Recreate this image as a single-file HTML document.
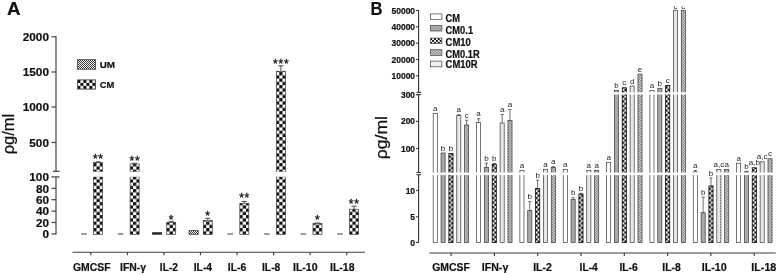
<!DOCTYPE html>
<html lang="en"><head><meta charset="utf-8"><title>Cytokine levels</title>
<style>
html,body{margin:0;padding:0;background:#fff;}
body{width:778px;height:275px;overflow:hidden;}
svg{display:block;font-family:'Liberation Sans', 'DejaVu Sans', sans-serif;}
</style></head>
<body>
<svg width="778" height="275" viewBox="0 0 778 275">
<rect width="778" height="275" fill="#fff"/>

<defs><clipPath id="clipB"><rect x="400" y="6.2" width="378" height="269"/></clipPath><pattern id="ckA0" width="6.5" height="6.5" patternUnits="userSpaceOnUse" x="93.23" y="234.60"><rect width="6.5" height="6.5" fill="#fff"/><rect width="3.25" height="3.25" fill="#111"/><rect x="3.25" y="3.25" width="3.25" height="3.25" fill="#111"/></pattern><pattern id="ckA1" width="6.5" height="6.5" patternUnits="userSpaceOnUse" x="133.04" y="234.60"><rect width="6.5" height="6.5" fill="#fff"/><rect width="3.25" height="3.25" fill="#111"/><rect x="3.25" y="3.25" width="3.25" height="3.25" fill="#111"/></pattern><pattern id="ckA2" width="6.5" height="6.5" patternUnits="userSpaceOnUse" x="166.36" y="234.60"><rect width="6.5" height="6.5" fill="#fff"/><rect width="3.25" height="3.25" fill="#111"/><rect x="3.25" y="3.25" width="3.25" height="3.25" fill="#111"/></pattern><pattern id="ckA3" width="6.5" height="6.5" patternUnits="userSpaceOnUse" x="206.17" y="234.60"><rect width="6.5" height="6.5" fill="#fff"/><rect width="3.25" height="3.25" fill="#111"/><rect x="3.25" y="3.25" width="3.25" height="3.25" fill="#111"/></pattern><pattern id="ckA4" width="6.5" height="6.5" patternUnits="userSpaceOnUse" x="239.48" y="234.60"><rect width="6.5" height="6.5" fill="#fff"/><rect width="3.25" height="3.25" fill="#111"/><rect x="3.25" y="3.25" width="3.25" height="3.25" fill="#111"/></pattern><pattern id="ckA5" width="6.5" height="6.5" patternUnits="userSpaceOnUse" x="279.29" y="234.60"><rect width="6.5" height="6.5" fill="#fff"/><rect width="3.25" height="3.25" fill="#111"/><rect x="3.25" y="3.25" width="3.25" height="3.25" fill="#111"/></pattern><pattern id="ckA6" width="6.5" height="6.5" patternUnits="userSpaceOnUse" x="312.61" y="234.60"><rect width="6.5" height="6.5" fill="#fff"/><rect width="3.25" height="3.25" fill="#111"/><rect x="3.25" y="3.25" width="3.25" height="3.25" fill="#111"/></pattern><pattern id="ckA7" width="6.5" height="6.5" patternUnits="userSpaceOnUse" x="352.42" y="234.60"><rect width="6.5" height="6.5" fill="#fff"/><rect width="3.25" height="3.25" fill="#111"/><rect x="3.25" y="3.25" width="3.25" height="3.25" fill="#111"/></pattern><pattern id="ckB0" width="4.6" height="4.6" patternUnits="userSpaceOnUse" x="448.65" y="242.80"><rect width="4.6" height="4.6" fill="#fff"/><rect width="2.3" height="2.3" fill="#111"/><rect x="2.3" y="2.3" width="2.3" height="2.3" fill="#111"/></pattern><pattern id="ckB1" width="4.6" height="4.6" patternUnits="userSpaceOnUse" x="491.99" y="242.80"><rect width="4.6" height="4.6" fill="#fff"/><rect width="2.3" height="2.3" fill="#111"/><rect x="2.3" y="2.3" width="2.3" height="2.3" fill="#111"/></pattern><pattern id="ckB2" width="4.6" height="4.6" patternUnits="userSpaceOnUse" x="535.33" y="242.80"><rect width="4.6" height="4.6" fill="#fff"/><rect width="2.3" height="2.3" fill="#111"/><rect x="2.3" y="2.3" width="2.3" height="2.3" fill="#111"/></pattern><pattern id="ckB3" width="4.6" height="4.6" patternUnits="userSpaceOnUse" x="578.67" y="242.80"><rect width="4.6" height="4.6" fill="#fff"/><rect width="2.3" height="2.3" fill="#111"/><rect x="2.3" y="2.3" width="2.3" height="2.3" fill="#111"/></pattern><pattern id="ckB4" width="4.6" height="4.6" patternUnits="userSpaceOnUse" x="622.01" y="242.80"><rect width="4.6" height="4.6" fill="#fff"/><rect width="2.3" height="2.3" fill="#111"/><rect x="2.3" y="2.3" width="2.3" height="2.3" fill="#111"/></pattern><pattern id="ckB5" width="4.6" height="4.6" patternUnits="userSpaceOnUse" x="665.35" y="242.80"><rect width="4.6" height="4.6" fill="#fff"/><rect width="2.3" height="2.3" fill="#111"/><rect x="2.3" y="2.3" width="2.3" height="2.3" fill="#111"/></pattern><pattern id="ckB6" width="4.6" height="4.6" patternUnits="userSpaceOnUse" x="708.69" y="242.80"><rect width="4.6" height="4.6" fill="#fff"/><rect width="2.3" height="2.3" fill="#111"/><rect x="2.3" y="2.3" width="2.3" height="2.3" fill="#111"/></pattern><pattern id="ckB7" width="4.6" height="4.6" patternUnits="userSpaceOnUse" x="752.03" y="242.80"><rect width="4.6" height="4.6" fill="#fff"/><rect width="2.3" height="2.3" fill="#111"/><rect x="2.3" y="2.3" width="2.3" height="2.3" fill="#111"/></pattern>
<pattern id="ckA" width="6" height="6" patternUnits="userSpaceOnUse" x="0.5" y="0.3">
<rect width="6" height="6" fill="#fff"/><rect width="3" height="3" fill="#111"/><rect x="3" y="3" width="3" height="3" fill="#111"/>
</pattern>
<pattern id="ckL" width="6" height="6" patternUnits="userSpaceOnUse" x="77.4" y="79.9">
<rect width="6" height="6" fill="#fff"/><rect width="3" height="3" fill="#111"/><rect x="3" y="3" width="3" height="3" fill="#111"/>
</pattern>
<pattern id="um" width="2" height="2" patternUnits="userSpaceOnUse">
<rect width="2" height="2" fill="#fff"/><rect width="1" height="1" fill="#333"/><rect x="1" y="1" width="1" height="1" fill="#333"/>
</pattern>
<pattern id="ckB" width="3.4" height="3.4" patternUnits="userSpaceOnUse" x="0.5" y="0.5">
<rect width="3.4" height="3.4" fill="#fff"/><rect width="1.7" height="1.7" fill="#111"/><rect x="1.7" y="1.7" width="1.7" height="1.7" fill="#111"/>
</pattern>
<pattern id="ckBL" width="3.8" height="3.8" patternUnits="userSpaceOnUse" x="430.2" y="38.1">
<rect width="3.8" height="3.8" fill="#fff"/><rect width="1.9" height="1.9" fill="#111"/><rect x="1.9" y="1.9" width="1.9" height="1.9" fill="#111"/>
</pattern>
<pattern id="dotB" width="2" height="2" patternUnits="userSpaceOnUse">
<rect width="2" height="2" fill="#fff"/><rect x="0.3" y="0.5" width="1.4" height="0.9" fill="#b4b4b4"/>
</pattern>
<pattern id="dotBL" width="2" height="2" patternUnits="userSpaceOnUse">
<rect width="2" height="2" fill="#fff"/><rect x="0.5" y="0.5" width="0.9" height="0.9" fill="#bbb"/>
</pattern>
<pattern id="hatB" width="1.6" height="1.6" patternUnits="userSpaceOnUse">
<rect width="1.6" height="1.6" fill="#f0f0f0"/><rect width="0.8" height="0.8" fill="#666"/><rect x="0.8" y="0.8" width="0.8" height="0.8" fill="#666"/>
</pattern>
<pattern id="hatBL" width="2" height="2" patternUnits="userSpaceOnUse">
<rect width="2" height="2" fill="#e8e8e8"/><rect width="1" height="1" fill="#444"/><rect x="1" y="1" width="1" height="1" fill="#444"/>
</pattern>
</defs>

<text x="7.00" y="14.70" font-size="19" font-weight="bold" stroke="#111" stroke-width="0.2" textLength="13.6" lengthAdjust="spacingAndGlyphs" fill="#111">A</text>
<line x1="56.00" y1="36.20" x2="56.00" y2="171.30" stroke="#3c3c3c" stroke-width="1.15"/>
<line x1="51.40" y1="36.80" x2="56.00" y2="36.80" stroke="#3c3c3c" stroke-width="1.15"/>
<text x="49.00" y="41.00" font-size="11.8" font-weight="bold" stroke="#111" stroke-width="0.2" text-anchor="end" fill="#111">2000</text>
<line x1="51.40" y1="72.00" x2="56.00" y2="72.00" stroke="#3c3c3c" stroke-width="1.15"/>
<text x="49.00" y="76.20" font-size="11.8" font-weight="bold" stroke="#111" stroke-width="0.2" text-anchor="end" fill="#111">1500</text>
<line x1="51.40" y1="107.00" x2="56.00" y2="107.00" stroke="#3c3c3c" stroke-width="1.15"/>
<text x="49.00" y="111.20" font-size="11.8" font-weight="bold" stroke="#111" stroke-width="0.2" text-anchor="end" fill="#111">1000</text>
<line x1="51.40" y1="142.50" x2="56.00" y2="142.50" stroke="#3c3c3c" stroke-width="1.15"/>
<text x="49.00" y="146.70" font-size="11.8" font-weight="bold" stroke="#111" stroke-width="0.2" text-anchor="end" fill="#111">500</text>
<line x1="53.00" y1="171.30" x2="59.60" y2="171.30" stroke="#3c3c3c" stroke-width="1.15"/>
<line x1="56.00" y1="176.90" x2="56.00" y2="234.50" stroke="#3c3c3c" stroke-width="1.15"/>
<line x1="51.40" y1="176.90" x2="59.60" y2="176.90" stroke="#3c3c3c" stroke-width="1.15"/>
<text x="49.00" y="181.10" font-size="11.8" font-weight="bold" stroke="#111" stroke-width="0.2" text-anchor="end" fill="#111">100</text>
<line x1="51.40" y1="188.30" x2="56.00" y2="188.30" stroke="#3c3c3c" stroke-width="1.15"/>
<text x="49.00" y="192.50" font-size="11.8" font-weight="bold" stroke="#111" stroke-width="0.2" text-anchor="end" fill="#111">80</text>
<line x1="51.40" y1="199.70" x2="56.00" y2="199.70" stroke="#3c3c3c" stroke-width="1.15"/>
<text x="49.00" y="203.90" font-size="11.8" font-weight="bold" stroke="#111" stroke-width="0.2" text-anchor="end" fill="#111">60</text>
<line x1="51.40" y1="211.10" x2="56.00" y2="211.10" stroke="#3c3c3c" stroke-width="1.15"/>
<text x="49.00" y="215.30" font-size="11.8" font-weight="bold" stroke="#111" stroke-width="0.2" text-anchor="end" fill="#111">40</text>
<line x1="51.40" y1="222.50" x2="56.00" y2="222.50" stroke="#3c3c3c" stroke-width="1.15"/>
<text x="49.00" y="226.70" font-size="11.8" font-weight="bold" stroke="#111" stroke-width="0.2" text-anchor="end" fill="#111">20</text>
<line x1="51.40" y1="233.90" x2="56.00" y2="233.90" stroke="#3c3c3c" stroke-width="1.15"/>
<text x="49.00" y="238.10" font-size="11.8" font-weight="bold" stroke="#111" stroke-width="0.2" text-anchor="end" fill="#111">0</text>
<text transform="translate(14.3,154.3) rotate(-90)" font-size="16" textLength="40.5" stroke="#111" stroke-width="0.25" lengthAdjust="spacingAndGlyphs" fill="#111">ρg/ml</text>
<rect x="77.60" y="59.70" width="18.00" height="9.50" fill="url(#um)" stroke="#3c3c3c" stroke-width="0.8"/>
<rect x="77.60" y="79.90" width="18.00" height="9.20" fill="url(#ckL)" stroke="#3c3c3c" stroke-width="0.8"/>
<text x="99.70" y="67.60" font-size="9" font-weight="bold" stroke="#111" stroke-width="0.2" textLength="15.3" lengthAdjust="spacingAndGlyphs" fill="#111">UM</text>
<text x="99.70" y="88.00" font-size="9" font-weight="bold" stroke="#111" stroke-width="0.2" textLength="14.6" lengthAdjust="spacingAndGlyphs" fill="#111">CM</text>
<line x1="72.50" y1="252.20" x2="365.00" y2="252.20" stroke="#3c3c3c" stroke-width="1.15"/>
<line x1="90.78" y1="252.20" x2="90.78" y2="255.30" stroke="#3c3c3c" stroke-width="1.15"/>
<line x1="127.34" y1="252.20" x2="127.34" y2="255.30" stroke="#3c3c3c" stroke-width="1.15"/>
<line x1="163.91" y1="252.20" x2="163.91" y2="255.30" stroke="#3c3c3c" stroke-width="1.15"/>
<line x1="200.47" y1="252.20" x2="200.47" y2="255.30" stroke="#3c3c3c" stroke-width="1.15"/>
<line x1="237.03" y1="252.20" x2="237.03" y2="255.30" stroke="#3c3c3c" stroke-width="1.15"/>
<line x1="273.59" y1="252.20" x2="273.59" y2="255.30" stroke="#3c3c3c" stroke-width="1.15"/>
<line x1="310.16" y1="252.20" x2="310.16" y2="255.30" stroke="#3c3c3c" stroke-width="1.15"/>
<line x1="346.72" y1="252.20" x2="346.72" y2="255.30" stroke="#3c3c3c" stroke-width="1.15"/>
<text x="73.00" y="270.80" font-size="10.8" font-weight="bold" stroke="#111" stroke-width="0.2" textLength="37.6" lengthAdjust="spacingAndGlyphs" fill="#111">GMCSF</text>
<text x="120.00" y="270.80" font-size="10.8" font-weight="bold" stroke="#111" stroke-width="0.2" textLength="26" lengthAdjust="spacingAndGlyphs" fill="#111">IFN-γ</text>
<text x="159.80" y="270.80" font-size="10.8" font-weight="bold" stroke="#111" stroke-width="0.2" textLength="18.2" lengthAdjust="spacingAndGlyphs" fill="#111">IL-2</text>
<text x="193.70" y="270.80" font-size="10.8" font-weight="bold" stroke="#111" stroke-width="0.2" textLength="18.4" lengthAdjust="spacingAndGlyphs" fill="#111">IL-4</text>
<text x="227.80" y="270.80" font-size="10.8" font-weight="bold" stroke="#111" stroke-width="0.2" textLength="18.4" lengthAdjust="spacingAndGlyphs" fill="#111">IL-6</text>
<text x="262.00" y="270.80" font-size="10.8" font-weight="bold" stroke="#111" stroke-width="0.2" textLength="18.3" lengthAdjust="spacingAndGlyphs" fill="#111">IL-8</text>
<text x="293.00" y="270.80" font-size="10.8" font-weight="bold" stroke="#111" stroke-width="0.2" textLength="24.5" lengthAdjust="spacingAndGlyphs" fill="#111">IL-10</text>
<text x="330.00" y="270.80" font-size="10.8" font-weight="bold" stroke="#111" stroke-width="0.2" textLength="24.5" lengthAdjust="spacingAndGlyphs" fill="#111">IL-18</text>
<line x1="81.18" y1="234.00" x2="86.78" y2="234.00" stroke="#3c3c3c" stroke-width="1"/>
<line x1="98.08" y1="161.80" x2="98.08" y2="163.60" stroke="#3c3c3c" stroke-width="0.9"/>
<line x1="95.48" y1="161.80" x2="100.68" y2="161.80" stroke="#3c3c3c" stroke-width="0.9"/>
<rect x="93.58" y="162.60" width="9.00" height="9.30" fill="url(#ckA0)" stroke="#3c3c3c" stroke-width="0.7"/>
<rect x="93.58" y="176.80" width="9.00" height="57.50" fill="url(#ckA0)" stroke="#3c3c3c" stroke-width="0.7"/>
<rect x="92.58" y="171.7" width="11.00" height="5.0" fill="#fff"/>
<text x="98.38" y="163.10" font-size="12" text-anchor="middle" fill="#111" letter-spacing="0.8" stroke="#111" stroke-width="0.3">**</text>
<line x1="117.74" y1="234.00" x2="123.34" y2="234.00" stroke="#3c3c3c" stroke-width="1"/>
<line x1="134.64" y1="163.20" x2="134.64" y2="165.00" stroke="#3c3c3c" stroke-width="0.9"/>
<line x1="132.04" y1="163.20" x2="137.24" y2="163.20" stroke="#3c3c3c" stroke-width="0.9"/>
<rect x="130.14" y="164.00" width="9.00" height="7.90" fill="url(#ckA1)" stroke="#3c3c3c" stroke-width="0.7"/>
<rect x="130.14" y="176.80" width="9.00" height="57.50" fill="url(#ckA1)" stroke="#3c3c3c" stroke-width="0.7"/>
<rect x="129.14" y="171.7" width="11.00" height="5.0" fill="#fff"/>
<text x="134.94" y="165.30" font-size="12" text-anchor="middle" fill="#111" letter-spacing="0.8" stroke="#111" stroke-width="0.3">**</text>
<rect x="152.51" y="232.60" width="9.20" height="1.70" fill="#222" stroke="#3c3c3c" stroke-width="0.8"/>
<line x1="171.21" y1="221.40" x2="171.21" y2="223.60" stroke="#3c3c3c" stroke-width="0.9"/>
<line x1="168.61" y1="221.40" x2="173.81" y2="221.40" stroke="#3c3c3c" stroke-width="0.9"/>
<rect x="166.71" y="222.60" width="9.00" height="11.70" fill="url(#ckA2)" stroke="#3c3c3c" stroke-width="0.7"/>
<text x="171.51" y="223.50" font-size="12" text-anchor="middle" fill="#111" letter-spacing="0.8" stroke="#111" stroke-width="0.3">*</text>
<rect x="189.07" y="230.60" width="9.20" height="3.70" fill="url(#um)" stroke="#3c3c3c" stroke-width="0.8"/>
<line x1="207.77" y1="218.30" x2="207.77" y2="221.60" stroke="#3c3c3c" stroke-width="0.9"/>
<line x1="205.17" y1="218.30" x2="210.37" y2="218.30" stroke="#3c3c3c" stroke-width="0.9"/>
<rect x="203.27" y="220.60" width="9.00" height="13.70" fill="url(#ckA3)" stroke="#3c3c3c" stroke-width="0.7"/>
<text x="208.07" y="220.30" font-size="12" text-anchor="middle" fill="#111" letter-spacing="0.8" stroke="#111" stroke-width="0.3">*</text>
<line x1="227.43" y1="234.00" x2="233.03" y2="234.00" stroke="#3c3c3c" stroke-width="1"/>
<line x1="244.33" y1="201.40" x2="244.33" y2="204.30" stroke="#3c3c3c" stroke-width="0.9"/>
<line x1="241.73" y1="201.40" x2="246.93" y2="201.40" stroke="#3c3c3c" stroke-width="0.9"/>
<rect x="239.83" y="203.30" width="9.00" height="31.00" fill="url(#ckA4)" stroke="#3c3c3c" stroke-width="0.7"/>
<text x="244.63" y="202.30" font-size="12" text-anchor="middle" fill="#111" letter-spacing="0.8" stroke="#111" stroke-width="0.3">**</text>
<line x1="263.99" y1="234.00" x2="269.59" y2="234.00" stroke="#3c3c3c" stroke-width="1"/>
<line x1="280.89" y1="65.80" x2="280.89" y2="72.30" stroke="#3c3c3c" stroke-width="0.9"/>
<line x1="278.29" y1="65.80" x2="283.49" y2="65.80" stroke="#3c3c3c" stroke-width="0.9"/>
<rect x="276.39" y="71.30" width="9.00" height="100.60" fill="url(#ckA5)" stroke="#3c3c3c" stroke-width="0.7"/>
<rect x="276.39" y="176.80" width="9.00" height="57.50" fill="url(#ckA5)" stroke="#3c3c3c" stroke-width="0.7"/>
<rect x="275.39" y="171.7" width="11.00" height="5.0" fill="#fff"/>
<text x="281.19" y="67.60" font-size="12" text-anchor="middle" fill="#111" letter-spacing="0.8" stroke="#111" stroke-width="0.3">***</text>
<line x1="300.56" y1="234.00" x2="306.16" y2="234.00" stroke="#3c3c3c" stroke-width="1"/>
<line x1="317.46" y1="223.00" x2="317.46" y2="224.60" stroke="#3c3c3c" stroke-width="0.9"/>
<line x1="314.86" y1="223.00" x2="320.06" y2="223.00" stroke="#3c3c3c" stroke-width="0.9"/>
<rect x="312.96" y="223.60" width="9.00" height="10.70" fill="url(#ckA6)" stroke="#3c3c3c" stroke-width="0.7"/>
<text x="317.76" y="223.70" font-size="12" text-anchor="middle" fill="#111" letter-spacing="0.8" stroke="#111" stroke-width="0.3">*</text>
<line x1="337.12" y1="234.00" x2="342.72" y2="234.00" stroke="#3c3c3c" stroke-width="1"/>
<line x1="354.02" y1="206.20" x2="354.02" y2="210.20" stroke="#3c3c3c" stroke-width="0.9"/>
<line x1="351.42" y1="206.20" x2="356.62" y2="206.20" stroke="#3c3c3c" stroke-width="0.9"/>
<rect x="349.52" y="209.20" width="9.00" height="25.10" fill="url(#ckA7)" stroke="#3c3c3c" stroke-width="0.7"/>
<text x="354.32" y="207.90" font-size="12" text-anchor="middle" fill="#111" letter-spacing="0.8" stroke="#111" stroke-width="0.3">**</text>
<text x="370.40" y="14.70" font-size="19" font-weight="bold" stroke="#111" stroke-width="0.2" textLength="12" lengthAdjust="spacingAndGlyphs" fill="#111">B</text>
<line x1="418.60" y1="10.00" x2="418.60" y2="92.40" stroke="#3c3c3c" stroke-width="1.15"/>
<line x1="416.00" y1="10.50" x2="418.60" y2="10.50" stroke="#3c3c3c" stroke-width="1.15"/>
<text x="415.10" y="13.60" font-size="8.5" font-weight="bold" stroke="#111" stroke-width="0.2" text-anchor="end" fill="#111">50000</text>
<line x1="416.00" y1="26.83" x2="418.60" y2="26.83" stroke="#3c3c3c" stroke-width="1.15"/>
<text x="415.10" y="29.93" font-size="8.5" font-weight="bold" stroke="#111" stroke-width="0.2" text-anchor="end" fill="#111">40000</text>
<line x1="416.00" y1="43.16" x2="418.60" y2="43.16" stroke="#3c3c3c" stroke-width="1.15"/>
<text x="415.10" y="46.26" font-size="8.5" font-weight="bold" stroke="#111" stroke-width="0.2" text-anchor="end" fill="#111">30000</text>
<line x1="416.00" y1="59.49" x2="418.60" y2="59.49" stroke="#3c3c3c" stroke-width="1.15"/>
<text x="415.10" y="62.59" font-size="8.5" font-weight="bold" stroke="#111" stroke-width="0.2" text-anchor="end" fill="#111">20000</text>
<line x1="416.00" y1="75.82" x2="418.60" y2="75.82" stroke="#3c3c3c" stroke-width="1.15"/>
<text x="415.10" y="78.92" font-size="8.5" font-weight="bold" stroke="#111" stroke-width="0.2" text-anchor="end" fill="#111">10000</text>
<line x1="416.40" y1="92.40" x2="421.00" y2="92.40" stroke="#3c3c3c" stroke-width="1.15"/>
<line x1="416.40" y1="94.60" x2="421.00" y2="94.60" stroke="#3c3c3c" stroke-width="1.15"/>
<line x1="418.60" y1="94.60" x2="418.60" y2="172.50" stroke="#3c3c3c" stroke-width="1.15"/>
<line x1="416.00" y1="94.60" x2="418.60" y2="94.60" stroke="#3c3c3c" stroke-width="1.15"/>
<text x="415.10" y="97.70" font-size="8.5" font-weight="bold" stroke="#111" stroke-width="0.2" text-anchor="end" fill="#111">300</text>
<line x1="416.00" y1="121.30" x2="418.60" y2="121.30" stroke="#3c3c3c" stroke-width="1.15"/>
<text x="415.10" y="124.40" font-size="8.5" font-weight="bold" stroke="#111" stroke-width="0.2" text-anchor="end" fill="#111">200</text>
<line x1="416.00" y1="148.50" x2="418.60" y2="148.50" stroke="#3c3c3c" stroke-width="1.15"/>
<text x="415.10" y="151.60" font-size="8.5" font-weight="bold" stroke="#111" stroke-width="0.2" text-anchor="end" fill="#111">100</text>
<line x1="416.40" y1="172.50" x2="421.00" y2="172.50" stroke="#3c3c3c" stroke-width="1.15"/>
<line x1="416.40" y1="174.70" x2="421.00" y2="174.70" stroke="#3c3c3c" stroke-width="1.15"/>
<line x1="418.60" y1="174.70" x2="418.60" y2="243.00" stroke="#3c3c3c" stroke-width="1.15"/>
<line x1="416.00" y1="190.50" x2="418.60" y2="190.50" stroke="#3c3c3c" stroke-width="1.15"/>
<text x="415.10" y="193.60" font-size="8.5" font-weight="bold" stroke="#111" stroke-width="0.2" text-anchor="end" fill="#111">10</text>
<line x1="416.00" y1="216.80" x2="418.60" y2="216.80" stroke="#3c3c3c" stroke-width="1.15"/>
<text x="415.10" y="219.90" font-size="8.5" font-weight="bold" stroke="#111" stroke-width="0.2" text-anchor="end" fill="#111">5</text>
<line x1="416.00" y1="242.50" x2="418.60" y2="242.50" stroke="#3c3c3c" stroke-width="1.15"/>
<text x="415.10" y="245.60" font-size="8.5" font-weight="bold" stroke="#111" stroke-width="0.2" text-anchor="end" fill="#111">0</text>
<text transform="translate(386.8,159.3) rotate(-90)" font-size="16" textLength="43.3" stroke="#111" stroke-width="0.25" lengthAdjust="spacingAndGlyphs" fill="#111">ρg/ml</text>
<rect x="430.50" y="13.90" width="11.40" height="5.70" fill="#fff" stroke="#444" stroke-width="0.7"/>
<text x="445.60" y="22.20" font-size="10" font-weight="bold" stroke="#111" stroke-width="0.2" textLength="14.5" lengthAdjust="spacingAndGlyphs" fill="#111">CM</text>
<rect x="430.50" y="25.30" width="11.40" height="5.70" fill="#a8a8a8" stroke="#444" stroke-width="0.7"/>
<text x="445.60" y="34.00" font-size="10" font-weight="bold" stroke="#111" stroke-width="0.2" textLength="27.5" lengthAdjust="spacingAndGlyphs" fill="#111">CM0.1</text>
<rect x="430.50" y="38.10" width="11.40" height="5.40" fill="url(#ckBL)" stroke="#444" stroke-width="0.7"/>
<text x="445.60" y="46.20" font-size="10" font-weight="bold" stroke="#111" stroke-width="0.2" textLength="25.3" lengthAdjust="spacingAndGlyphs" fill="#111">CM10</text>
<rect x="430.50" y="49.70" width="11.40" height="5.70" fill="url(#hatB)" stroke="#444" stroke-width="0.7"/>
<text x="445.60" y="57.70" font-size="10" font-weight="bold" stroke="#111" stroke-width="0.2" textLength="34" lengthAdjust="spacingAndGlyphs" fill="#111">CM0.1R</text>
<rect x="430.50" y="61.10" width="11.40" height="5.70" fill="url(#dotBL)" stroke="#444" stroke-width="0.7"/>
<text x="445.60" y="68.20" font-size="10" font-weight="bold" stroke="#111" stroke-width="0.2" textLength="32" lengthAdjust="spacingAndGlyphs" fill="#111">CM10R</text>
<line x1="429.30" y1="253.00" x2="775.70" y2="253.00" stroke="#3c3c3c" stroke-width="1.15"/>
<line x1="451.10" y1="253.00" x2="451.10" y2="256.00" stroke="#3c3c3c" stroke-width="1.15"/>
<line x1="494.40" y1="253.00" x2="494.40" y2="256.00" stroke="#3c3c3c" stroke-width="1.15"/>
<line x1="537.70" y1="253.00" x2="537.70" y2="256.00" stroke="#3c3c3c" stroke-width="1.15"/>
<line x1="581.00" y1="253.00" x2="581.00" y2="256.00" stroke="#3c3c3c" stroke-width="1.15"/>
<line x1="624.30" y1="253.00" x2="624.30" y2="256.00" stroke="#3c3c3c" stroke-width="1.15"/>
<line x1="667.60" y1="253.00" x2="667.60" y2="256.00" stroke="#3c3c3c" stroke-width="1.15"/>
<line x1="710.90" y1="253.00" x2="710.90" y2="256.00" stroke="#3c3c3c" stroke-width="1.15"/>
<line x1="754.20" y1="253.00" x2="754.20" y2="256.00" stroke="#3c3c3c" stroke-width="1.15"/>
<text x="432.20" y="271.20" font-size="10.8" font-weight="bold" stroke="#111" stroke-width="0.2" textLength="37.8" lengthAdjust="spacingAndGlyphs" fill="#111">GMCSF</text>
<text x="481.80" y="271.20" font-size="10.8" font-weight="bold" stroke="#111" stroke-width="0.2" textLength="26.5" lengthAdjust="spacingAndGlyphs" fill="#111">IFN-γ</text>
<text x="533.20" y="271.20" font-size="10.8" font-weight="bold" stroke="#111" stroke-width="0.2" textLength="18.6" lengthAdjust="spacingAndGlyphs" fill="#111">IL-2</text>
<text x="579.60" y="271.20" font-size="10.8" font-weight="bold" stroke="#111" stroke-width="0.2" textLength="18.2" lengthAdjust="spacingAndGlyphs" fill="#111">IL-4</text>
<text x="619.40" y="271.20" font-size="10.8" font-weight="bold" stroke="#111" stroke-width="0.2" textLength="18.4" lengthAdjust="spacingAndGlyphs" fill="#111">IL-6</text>
<text x="662.30" y="271.20" font-size="10.8" font-weight="bold" stroke="#111" stroke-width="0.2" textLength="18.4" lengthAdjust="spacingAndGlyphs" fill="#111">IL-8</text>
<text x="701.70" y="271.20" font-size="10.8" font-weight="bold" stroke="#111" stroke-width="0.2" textLength="25" lengthAdjust="spacingAndGlyphs" fill="#111">IL-10</text>
<text x="751.30" y="271.20" font-size="10.8" font-weight="bold" stroke="#111" stroke-width="0.2" textLength="25" lengthAdjust="spacingAndGlyphs" fill="#111">IL-18</text>
<rect x="433.20" y="113.50" width="4.10" height="129.10" fill="#fff" stroke="#3a3a3a" stroke-width="0.7"/>
<rect x="432.20" y="172.5" width="6.10" height="2.60" fill="#fff"/>
<text x="435.25" y="111.10" font-size="8" text-anchor="middle" fill="#222">a</text>
<rect x="441.05" y="153.00" width="4.10" height="89.60" fill="#a8a8a8" stroke="#3a3a3a" stroke-width="0.7"/>
<rect x="440.05" y="172.5" width="6.10" height="2.60" fill="#fff"/>
<text x="443.10" y="150.60" font-size="8" text-anchor="middle" fill="#222">b</text>
<rect x="448.90" y="153.50" width="4.10" height="89.10" fill="url(#ckB0)" stroke="#1a1a1a" stroke-width="0.9"/>
<rect x="447.90" y="172.5" width="6.10" height="2.60" fill="#fff"/>
<text x="450.95" y="151.10" font-size="8" text-anchor="middle" fill="#222">b</text>
<line x1="458.80" y1="114.70" x2="458.80" y2="116.00" stroke="#333" stroke-width="0.7"/>
<line x1="457.20" y1="114.70" x2="460.40" y2="114.70" stroke="#333" stroke-width="0.7"/>
<rect x="456.75" y="115.50" width="4.10" height="127.10" fill="url(#dotB)" stroke="#3a3a3a" stroke-width="0.7"/>
<rect x="455.75" y="172.5" width="6.10" height="2.60" fill="#fff"/>
<text x="458.80" y="112.30" font-size="8" text-anchor="middle" fill="#222">a</text>
<line x1="466.65" y1="120.20" x2="466.65" y2="125.50" stroke="#333" stroke-width="0.7"/>
<line x1="465.05" y1="120.20" x2="468.25" y2="120.20" stroke="#333" stroke-width="0.7"/>
<rect x="464.60" y="125.00" width="4.10" height="117.60" fill="url(#hatB)" stroke="#3a3a3a" stroke-width="0.7"/>
<rect x="463.60" y="172.5" width="6.10" height="2.60" fill="#fff"/>
<text x="466.65" y="117.80" font-size="8" text-anchor="middle" fill="#222">c</text>
<line x1="478.59" y1="118.70" x2="478.59" y2="123.00" stroke="#333" stroke-width="0.7"/>
<line x1="476.99" y1="118.70" x2="480.19" y2="118.70" stroke="#333" stroke-width="0.7"/>
<rect x="476.54" y="122.50" width="4.10" height="120.10" fill="#fff" stroke="#3a3a3a" stroke-width="0.7"/>
<rect x="475.54" y="172.5" width="6.10" height="2.60" fill="#fff"/>
<text x="478.59" y="116.30" font-size="8" text-anchor="middle" fill="#222">a</text>
<line x1="486.44" y1="163.20" x2="486.44" y2="168.00" stroke="#333" stroke-width="0.7"/>
<line x1="484.84" y1="163.20" x2="488.04" y2="163.20" stroke="#333" stroke-width="0.7"/>
<rect x="484.39" y="167.50" width="4.10" height="75.10" fill="#a8a8a8" stroke="#3a3a3a" stroke-width="0.7"/>
<rect x="483.39" y="172.5" width="6.10" height="2.60" fill="#fff"/>
<text x="486.44" y="160.80" font-size="8" text-anchor="middle" fill="#222">b</text>
<line x1="494.29" y1="163.50" x2="494.29" y2="164.80" stroke="#333" stroke-width="0.7"/>
<line x1="492.69" y1="163.50" x2="495.89" y2="163.50" stroke="#333" stroke-width="0.7"/>
<rect x="492.24" y="164.30" width="4.10" height="78.30" fill="url(#ckB1)" stroke="#1a1a1a" stroke-width="0.9"/>
<rect x="491.24" y="172.5" width="6.10" height="2.60" fill="#fff"/>
<text x="494.29" y="161.10" font-size="8" text-anchor="middle" fill="#222">b</text>
<line x1="502.14" y1="114.50" x2="502.14" y2="123.50" stroke="#333" stroke-width="0.7"/>
<line x1="500.54" y1="114.50" x2="503.74" y2="114.50" stroke="#333" stroke-width="0.7"/>
<rect x="500.09" y="123.00" width="4.10" height="119.60" fill="url(#dotB)" stroke="#3a3a3a" stroke-width="0.7"/>
<rect x="499.09" y="172.5" width="6.10" height="2.60" fill="#fff"/>
<text x="502.14" y="112.10" font-size="8" text-anchor="middle" fill="#222">a</text>
<line x1="509.99" y1="109.50" x2="509.99" y2="121.00" stroke="#333" stroke-width="0.7"/>
<line x1="508.39" y1="109.50" x2="511.59" y2="109.50" stroke="#333" stroke-width="0.7"/>
<rect x="507.94" y="120.50" width="4.10" height="122.10" fill="url(#hatB)" stroke="#3a3a3a" stroke-width="0.7"/>
<rect x="506.94" y="172.5" width="6.10" height="2.60" fill="#fff"/>
<text x="509.99" y="107.10" font-size="8" text-anchor="middle" fill="#222">a</text>
<rect x="519.88" y="170.50" width="4.10" height="72.10" fill="#fff" stroke="#3a3a3a" stroke-width="0.7"/>
<rect x="518.88" y="172.5" width="6.10" height="2.60" fill="#fff"/>
<text x="521.93" y="168.10" font-size="8" text-anchor="middle" fill="#222">a</text>
<line x1="529.78" y1="201.70" x2="529.78" y2="211.00" stroke="#333" stroke-width="0.7"/>
<line x1="528.18" y1="201.70" x2="531.38" y2="201.70" stroke="#333" stroke-width="0.7"/>
<rect x="527.73" y="210.50" width="4.10" height="32.10" fill="#a8a8a8" stroke="#3a3a3a" stroke-width="0.7"/>
<text x="529.78" y="199.30" font-size="8" text-anchor="middle" fill="#222">b</text>
<line x1="537.63" y1="180.00" x2="537.63" y2="189.00" stroke="#333" stroke-width="0.7"/>
<line x1="536.03" y1="180.00" x2="539.23" y2="180.00" stroke="#333" stroke-width="0.7"/>
<rect x="535.58" y="188.50" width="4.10" height="54.10" fill="url(#ckB2)" stroke="#1a1a1a" stroke-width="0.9"/>
<text x="537.63" y="177.60" font-size="8" text-anchor="middle" fill="#222">b</text>
<rect x="543.43" y="169.30" width="4.10" height="73.30" fill="url(#dotB)" stroke="#3a3a3a" stroke-width="0.7"/>
<rect x="542.43" y="172.5" width="6.10" height="2.60" fill="#fff"/>
<text x="545.48" y="166.90" font-size="8" text-anchor="middle" fill="#222">a</text>
<line x1="553.33" y1="166.70" x2="553.33" y2="168.00" stroke="#333" stroke-width="0.7"/>
<line x1="551.73" y1="166.70" x2="554.93" y2="166.70" stroke="#333" stroke-width="0.7"/>
<rect x="551.28" y="167.50" width="4.10" height="75.10" fill="url(#hatB)" stroke="#3a3a3a" stroke-width="0.7"/>
<rect x="550.28" y="172.5" width="6.10" height="2.60" fill="#fff"/>
<text x="553.33" y="164.30" font-size="8" text-anchor="middle" fill="#222">a</text>
<rect x="563.22" y="169.50" width="4.10" height="73.10" fill="#fff" stroke="#3a3a3a" stroke-width="0.7"/>
<rect x="562.22" y="172.5" width="6.10" height="2.60" fill="#fff"/>
<text x="565.27" y="167.10" font-size="8" text-anchor="middle" fill="#222">a</text>
<line x1="573.12" y1="197.70" x2="573.12" y2="200.00" stroke="#333" stroke-width="0.7"/>
<line x1="571.52" y1="197.70" x2="574.72" y2="197.70" stroke="#333" stroke-width="0.7"/>
<rect x="571.07" y="199.50" width="4.10" height="43.10" fill="#a8a8a8" stroke="#3a3a3a" stroke-width="0.7"/>
<text x="573.12" y="195.30" font-size="8" text-anchor="middle" fill="#222">b</text>
<line x1="580.97" y1="193.30" x2="580.97" y2="194.60" stroke="#333" stroke-width="0.7"/>
<line x1="579.37" y1="193.30" x2="582.57" y2="193.30" stroke="#333" stroke-width="0.7"/>
<rect x="578.92" y="194.10" width="4.10" height="48.50" fill="url(#ckB3)" stroke="#1a1a1a" stroke-width="0.9"/>
<text x="580.97" y="190.90" font-size="8" text-anchor="middle" fill="#222">b</text>
<rect x="586.77" y="170.50" width="4.10" height="72.10" fill="url(#dotB)" stroke="#3a3a3a" stroke-width="0.7"/>
<rect x="585.77" y="172.5" width="6.10" height="2.60" fill="#fff"/>
<text x="588.82" y="168.10" font-size="8" text-anchor="middle" fill="#222">a</text>
<rect x="594.62" y="170.50" width="4.10" height="72.10" fill="url(#hatB)" stroke="#3a3a3a" stroke-width="0.7"/>
<rect x="593.62" y="172.5" width="6.10" height="2.60" fill="#fff"/>
<text x="596.67" y="168.10" font-size="8" text-anchor="middle" fill="#222">a</text>
<rect x="606.56" y="162.30" width="4.10" height="80.30" fill="#fff" stroke="#3a3a3a" stroke-width="0.7"/>
<rect x="605.56" y="172.5" width="6.10" height="2.60" fill="#fff"/>
<text x="608.61" y="159.90" font-size="8" text-anchor="middle" fill="#222">a</text>
<rect x="614.41" y="90.50" width="4.10" height="152.10" fill="#a8a8a8" stroke="#3a3a3a" stroke-width="0.7"/>
<rect x="613.41" y="92.3" width="6.10" height="2.20" fill="#fff"/>
<rect x="613.41" y="172.5" width="6.10" height="2.60" fill="#fff"/>
<text x="616.46" y="88.10" font-size="8" text-anchor="middle" fill="#222">b</text>
<rect x="622.26" y="87.80" width="4.10" height="154.80" fill="url(#ckB4)" stroke="#1a1a1a" stroke-width="0.9"/>
<rect x="621.26" y="92.3" width="6.10" height="2.20" fill="#fff"/>
<rect x="621.26" y="172.5" width="6.10" height="2.60" fill="#fff"/>
<text x="624.31" y="85.40" font-size="8" text-anchor="middle" fill="#222">c</text>
<rect x="630.11" y="86.00" width="4.10" height="156.60" fill="url(#dotB)" stroke="#3a3a3a" stroke-width="0.7"/>
<rect x="629.11" y="92.3" width="6.10" height="2.20" fill="#fff"/>
<rect x="629.11" y="172.5" width="6.10" height="2.60" fill="#fff"/>
<text x="632.16" y="83.60" font-size="8" text-anchor="middle" fill="#222">d</text>
<rect x="637.96" y="74.10" width="4.10" height="168.50" fill="url(#hatB)" stroke="#3a3a3a" stroke-width="0.7"/>
<rect x="636.96" y="92.3" width="6.10" height="2.20" fill="#fff"/>
<rect x="636.96" y="172.5" width="6.10" height="2.60" fill="#fff"/>
<text x="640.01" y="71.70" font-size="8" text-anchor="middle" fill="#222">e</text>
<rect x="649.90" y="90.50" width="4.10" height="152.10" fill="#fff" stroke="#3a3a3a" stroke-width="0.7"/>
<rect x="648.90" y="92.3" width="6.10" height="2.20" fill="#fff"/>
<rect x="648.90" y="172.5" width="6.10" height="2.60" fill="#fff"/>
<text x="651.95" y="88.10" font-size="8" text-anchor="middle" fill="#222">a</text>
<rect x="657.75" y="88.50" width="4.10" height="154.10" fill="#a8a8a8" stroke="#3a3a3a" stroke-width="0.7"/>
<rect x="656.75" y="92.3" width="6.10" height="2.20" fill="#fff"/>
<rect x="656.75" y="172.5" width="6.10" height="2.60" fill="#fff"/>
<text x="659.80" y="86.10" font-size="8" text-anchor="middle" fill="#222">b</text>
<rect x="665.60" y="85.50" width="4.10" height="157.10" fill="url(#ckB5)" stroke="#1a1a1a" stroke-width="0.9"/>
<rect x="664.60" y="92.3" width="6.10" height="2.20" fill="#fff"/>
<rect x="664.60" y="172.5" width="6.10" height="2.60" fill="#fff"/>
<text x="667.65" y="83.10" font-size="8" text-anchor="middle" fill="#222">c</text>
<rect x="673.45" y="10.30" width="4.10" height="232.30" fill="url(#dotB)" stroke="#3a3a3a" stroke-width="0.7"/>
<rect x="672.45" y="92.3" width="6.10" height="2.20" fill="#fff"/>
<rect x="672.45" y="172.5" width="6.10" height="2.60" fill="#fff"/>
<text x="675.50" y="8.60" font-size="8" text-anchor="middle" fill="#222" clip-path="url(#clipB)">c</text>
<rect x="681.30" y="10.30" width="4.10" height="232.30" fill="url(#hatB)" stroke="#3a3a3a" stroke-width="0.7"/>
<rect x="680.30" y="92.3" width="6.10" height="2.20" fill="#fff"/>
<rect x="680.30" y="172.5" width="6.10" height="2.60" fill="#fff"/>
<text x="683.35" y="8.60" font-size="8" text-anchor="middle" fill="#222" clip-path="url(#clipB)">c</text>
<line x1="695.29" y1="170.50" x2="695.29" y2="172.40" stroke="#333" stroke-width="0.7"/>
<line x1="693.69" y1="170.50" x2="696.89" y2="170.50" stroke="#333" stroke-width="0.7"/>
<rect x="693.24" y="171.90" width="4.10" height="70.70" fill="#fff" stroke="#3a3a3a" stroke-width="0.7"/>
<rect x="692.24" y="172.5" width="6.10" height="2.60" fill="#fff"/>
<text x="695.29" y="168.10" font-size="8" text-anchor="middle" fill="#222">a</text>
<line x1="703.14" y1="197.10" x2="703.14" y2="213.20" stroke="#333" stroke-width="0.7"/>
<line x1="701.54" y1="197.10" x2="704.74" y2="197.10" stroke="#333" stroke-width="0.7"/>
<rect x="701.09" y="212.70" width="4.10" height="29.90" fill="#a8a8a8" stroke="#3a3a3a" stroke-width="0.7"/>
<text x="703.14" y="194.70" font-size="8" text-anchor="middle" fill="#222">b</text>
<line x1="710.99" y1="178.00" x2="710.99" y2="186.50" stroke="#333" stroke-width="0.7"/>
<line x1="709.39" y1="178.00" x2="712.59" y2="178.00" stroke="#333" stroke-width="0.7"/>
<rect x="708.94" y="186.00" width="4.10" height="56.60" fill="url(#ckB6)" stroke="#1a1a1a" stroke-width="0.9"/>
<text x="710.99" y="175.60" font-size="8" text-anchor="middle" fill="#222">b</text>
<rect x="716.79" y="169.50" width="4.10" height="73.10" fill="url(#dotB)" stroke="#3a3a3a" stroke-width="0.7"/>
<rect x="715.79" y="172.5" width="6.10" height="2.60" fill="#fff"/>
<text x="718.84" y="167.10" font-size="8" text-anchor="middle" fill="#222">a,c</text>
<rect x="724.64" y="169.50" width="4.10" height="73.10" fill="url(#hatB)" stroke="#3a3a3a" stroke-width="0.7"/>
<rect x="723.64" y="172.5" width="6.10" height="2.60" fill="#fff"/>
<text x="726.69" y="167.10" font-size="8" text-anchor="middle" fill="#222">a</text>
<rect x="736.58" y="163.20" width="4.10" height="79.40" fill="#fff" stroke="#3a3a3a" stroke-width="0.7"/>
<rect x="735.58" y="172.5" width="6.10" height="2.60" fill="#fff"/>
<text x="738.63" y="160.80" font-size="8" text-anchor="middle" fill="#222">a</text>
<line x1="746.48" y1="171.20" x2="746.48" y2="172.30" stroke="#333" stroke-width="0.7"/>
<line x1="744.88" y1="171.20" x2="748.08" y2="171.20" stroke="#333" stroke-width="0.7"/>
<rect x="744.43" y="171.80" width="4.10" height="70.80" fill="#a8a8a8" stroke="#3a3a3a" stroke-width="0.7"/>
<rect x="743.43" y="172.5" width="6.10" height="2.60" fill="#fff"/>
<text x="746.48" y="168.80" font-size="8" text-anchor="middle" fill="#222">b</text>
<rect x="752.28" y="167.80" width="4.10" height="74.80" fill="url(#ckB7)" stroke="#1a1a1a" stroke-width="0.9"/>
<rect x="751.28" y="172.5" width="6.10" height="2.60" fill="#fff"/>
<text x="754.33" y="165.40" font-size="8" text-anchor="middle" fill="#222">a,b</text>
<rect x="760.13" y="161.80" width="4.10" height="80.80" fill="url(#dotB)" stroke="#3a3a3a" stroke-width="0.7"/>
<rect x="759.13" y="172.5" width="6.10" height="2.60" fill="#fff"/>
<text x="762.18" y="159.40" font-size="8" text-anchor="middle" fill="#222">a,c</text>
<rect x="767.98" y="158.80" width="4.10" height="83.80" fill="url(#hatB)" stroke="#3a3a3a" stroke-width="0.7"/>
<rect x="766.98" y="172.5" width="6.10" height="2.60" fill="#fff"/>
<text x="770.03" y="156.40" font-size="8" text-anchor="middle" fill="#222">c</text>
</svg>
</body></html>
